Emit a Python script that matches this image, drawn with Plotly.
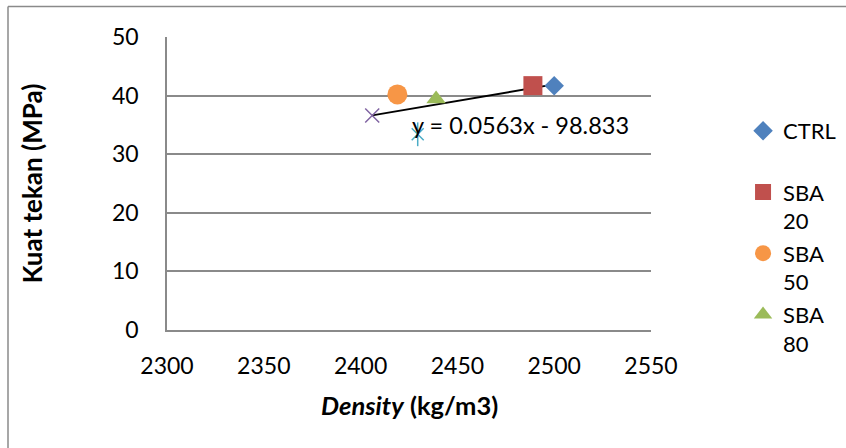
import plotly.graph_objects as go

# Data
series_names = ["CTRL", "SBA 20", "SBA 50", "SBA 80", "SBA 100", "SBA 120"]
density = [2500, 2489, 2419, 2439, 2406, 2429.5]
strength = [41.7, 41.7, 40.2, 39.4, 36.6, 33.4]
legend_labels = ["CTRL<br>&nbsp;", "SBA<br>20", "SBA<br>50", "SBA<br>80"]
trend_slope = 0.0563
trend_intercept = -98.833
x_ticks = [2300, 2350, 2400, 2450, 2500, 2550]
y_ticks = [0, 10, 20, 30, 40, 50]

FONT = "Lato"
GRID = "#8a8a8a"

colors = ["#4F81BD", "#C0504D", "#F79646", "#9BBB59", "#8064A2", "#4BACC6"]
symbols = ["diamond", "square", "circle", "triangle-up"]
sizes = [15, 19, 20, 17]

fig = go.Figure()

# Trendline (linear fit shown on chart) over the data span
xmin, xmax = min(density), max(density)
fig.add_trace(go.Scatter(
    x=[xmin, xmax],
    y=[trend_slope * xmin + trend_intercept, trend_slope * xmax + trend_intercept],
    mode="lines", line=dict(color="black", width=2), showlegend=False, hoverinfo="skip"))

for i in range(4):
    fig.add_trace(go.Scatter(
        x=[density[i]], y=[strength[i]], mode="markers", name=legend_labels[i],
        legendgroup=series_names[i],
        marker=dict(symbol=symbols[i], size=sizes[i], color=colors[i], line=dict(width=0))))

# Two extra series not listed in the legend
fig.add_trace(go.Scatter(
    x=[density[4]], y=[strength[4]], mode="markers", name=series_names[4], showlegend=False,
    marker=dict(symbol="x-thin-open", size=14, color=colors[4], line=dict(color=colors[4], width=1.5))))
fig.add_trace(go.Scatter(
    x=[density[5]], y=[strength[5]], mode="markers", name=series_names[5], showlegend=False,
    marker=dict(symbol="x-thin-open", size=12, color=colors[5], line=dict(color=colors[5], width=1.5))))
fig.add_trace(go.Scatter(
    x=[density[5]], y=[strength[5]], mode="markers", name=series_names[5], showlegend=False,
    marker=dict(symbol="line-ns-open", size=17, color=colors[5], line=dict(color=colors[5], width=1.5))))

fig.add_annotation(
    x=2425.5, y=35, xref="x", yref="y", text="y = 0.0563x - 98.833",
    showarrow=False, xanchor="left", yanchor="middle",
    font=dict(family=FONT, size=23.5, color="black"))

# x-axis title
fig.add_annotation(
    x=0.5, y=-0.255, xref="paper", yref="paper", text="<b><i>Density</i> (kg/m3)</b>",
    showarrow=False, xanchor="center", yanchor="middle",
    font=dict(family=FONT, size=25.5, color="black"))

fig.update_layout(
    width=846, height=448,
    margin=dict(l=167, r=195, t=37, b=118),
    paper_bgcolor="white", plot_bgcolor="white",
    font=dict(family=FONT, color="black"),
    legend=dict(xref="container", yref="container", x=0.8783, y=0.7545,
                xanchor="left", yanchor="top", maxheight=1000,
                font=dict(family=FONT, size=22, color="black"),
                valign="top", bgcolor="rgba(0,0,0,0)", itemwidth=30,
                tracegroupgap=1),
    shapes=[
        dict(type="line", xref="paper", yref="paper", x0=-0.3285, x1=1.45, y0=1.104, y1=1.104,
             line=dict(color=GRID, width=1.5)),
        dict(type="line", xref="paper", yref="paper", x0=-0.3285, x1=-0.3285, y0=1.104, y1=-0.45,
             line=dict(color=GRID, width=1.5)),
    ],
)

fig.update_xaxes(
    range=[2300, 2550], tickvals=x_ticks, ticktext=[str(v) for v in x_ticks],
    showgrid=False, zeroline=False, showline=True, linecolor=GRID, linewidth=1.5,
    ticks="", tickfont=dict(family=FONT, size=23, color="black"), ticklabelstandoff=15)
fig.update_yaxes(
    range=[0, 50], tickvals=y_ticks, ticktext=[str(v) for v in y_ticks],
    showgrid=True, gridcolor=GRID, gridwidth=1.5, zeroline=False,
    showline=True, linecolor=GRID, linewidth=1.5,
    ticks="", tickfont=dict(family=FONT, size=23, color="black"), ticklabelstandoff=22,
    title=dict(text="<b>Kuat tekan (MPa)</b>", font=dict(family=FONT, size=26, color="black"),
               standoff=62))

fig.write_html("out.html")
